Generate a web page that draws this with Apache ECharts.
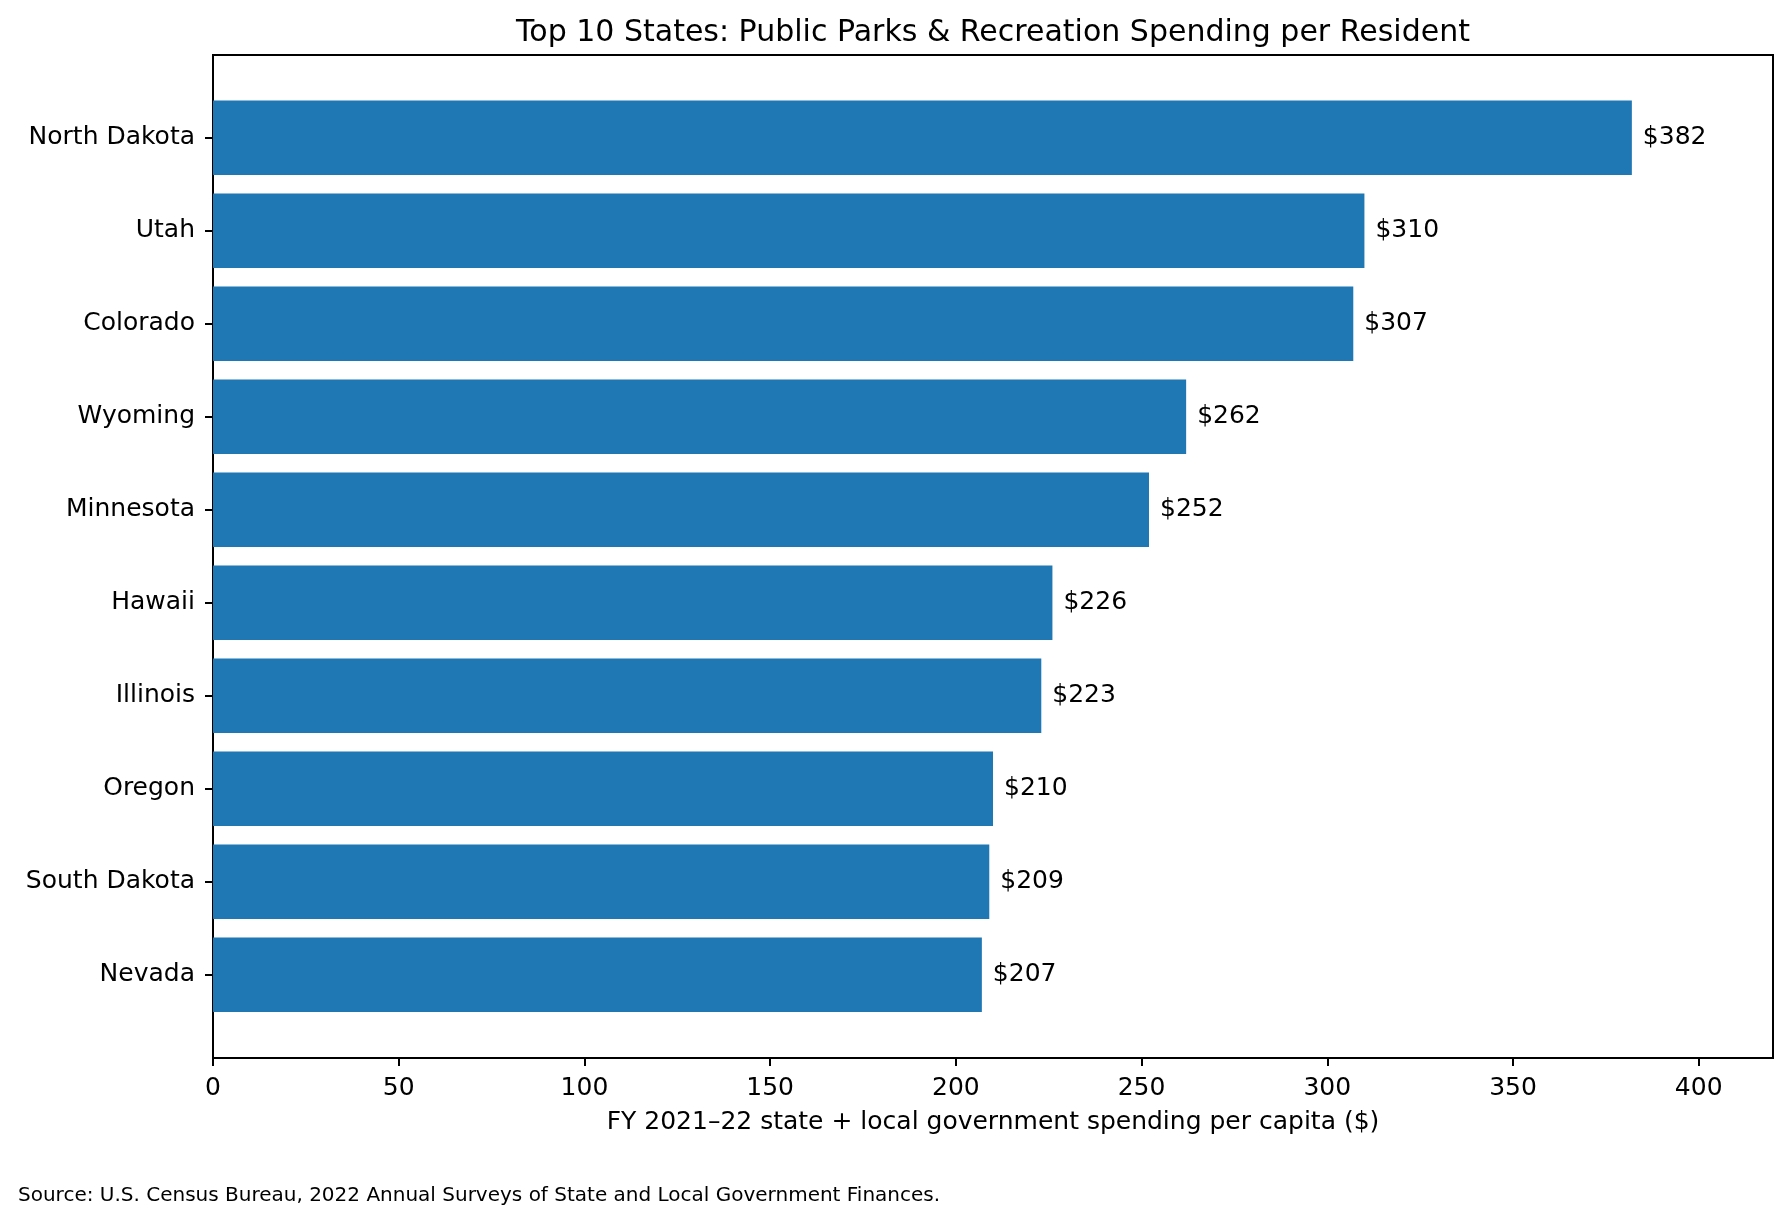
<!DOCTYPE html>
<html lang="en">

<head>
  <meta charset="UTF-8">
  <title>Top 10 States: Public Parks &amp; Recreation Spending per Resident</title>
  <script src="https://cdn.jsdelivr.net/npm/echarts@6/dist/echarts.min.js"></script>
  <style>
    body { margin: 0; background: #fff; }
  </style>
</head>

<body>
  <div id="main" style="width: 1791px;height:1222px"></div>
  <script>
    // 数据
    var states = ['North Dakota', 'Utah', 'Colorado', 'Wyoming', 'Minnesota',
      'Hawaii', 'Illinois', 'Oregon', 'South Dakota', 'Nevada'];
    var spending = [382, 310, 307, 262, 252, 226, 223, 210, 209, 207];
    var xTicks = [0, 50, 100, 150, 200, 250, 300, 350, 400];

    var font = 'DejaVu Sans';
    var myChart = echarts.init(document.getElementById('main'));

    // 外框 grid(0) 和柱子 grid(1) 分开，柱子区域上下留白跟原图一致
    var frame = { left: 213, top: 55, right: 18, bottom: 164 };
    var band = 93;
    var barsTop = frame.top + 0.89 * band - band / 2;
    var barsBottom = 1222 - (barsTop + band * states.length);

    var option = {
      animation: false,
      textStyle: { fontFamily: font },
      grid: [
        Object.assign({ show: true, borderColor: '#000', borderWidth: 2, backgroundColor: 'transparent' }, frame),
        { left: frame.left, right: frame.right, top: barsTop, bottom: barsBottom }
      ],
      xAxis: [
        {
          gridIndex: 0, type: 'value', min: 0, max: 420,
          axisLine: { show: true, lineStyle: { color: '#000', width: 2 } },
          axisTick: { show: true, length: 8, lineStyle: { color: '#000', width: 2 }, customValues: xTicks },
          axisLabel: { color: '#000', fontSize: 25, fontFamily: font, margin: 18, customValues: xTicks },
          splitLine: { show: false }
        },
        { gridIndex: 1, type: 'value', min: 0, max: 420, show: false }
      ],
      yAxis: [
        { gridIndex: 0, type: 'value', show: false },
        {
          gridIndex: 1, type: 'category', data: states, inverse: true,
          axisLine: { show: false },
          axisTick: { show: true, alignWithLabel: true, length: 8, lineStyle: { color: '#000', width: 2 } },
          axisLabel: { color: '#000', fontSize: 25, fontFamily: font, margin: 18, padding: [5, 0, 0, 0] }
        }
      ],
      series: [
        {
          type: 'bar',
          xAxisIndex: 1,
          yAxisIndex: 1,
          data: spending,
          barCategoryGap: '20%',
          itemStyle: { color: '#1f77b4' },
          label: {
            show: true,
            position: 'right',
            distance: 11,
            color: '#000',
            fontSize: 25,
            fontFamily: font,
            padding: [5, 0, 0, 0],
            formatter: function (p) { return '$' + p.value; }
          }
        }
      ],
      graphic: [
        {
          type: 'text', x: (213 + 1773) / 2, y: 33,
          style: {
            text: 'Top 10 States: Public Parks & Recreation Spending per Resident',
            fontSize: 30, fontFamily: font, fill: '#000', align: 'center', verticalAlign: 'middle'
          }
        },
        {
          type: 'text', x: (213 + 1773) / 2, y: 1122,
          style: {
            text: 'FY 2021\u201322 state + local government spending per capita ($)',
            fontSize: 25, fontFamily: font, fill: '#000', align: 'center', verticalAlign: 'middle'
          }
        },
        {
          type: 'text', x: 18, y: 1196,
          style: {
            text: 'Source: U.S. Census Bureau, 2022 Annual Surveys of State and Local Government Finances.',
            fontSize: 20, fontFamily: font, fill: '#000', align: 'left', verticalAlign: 'middle'
          }
        }
      ]
    };
    myChart.setOption(option);
  </script>
</body>

</html>
